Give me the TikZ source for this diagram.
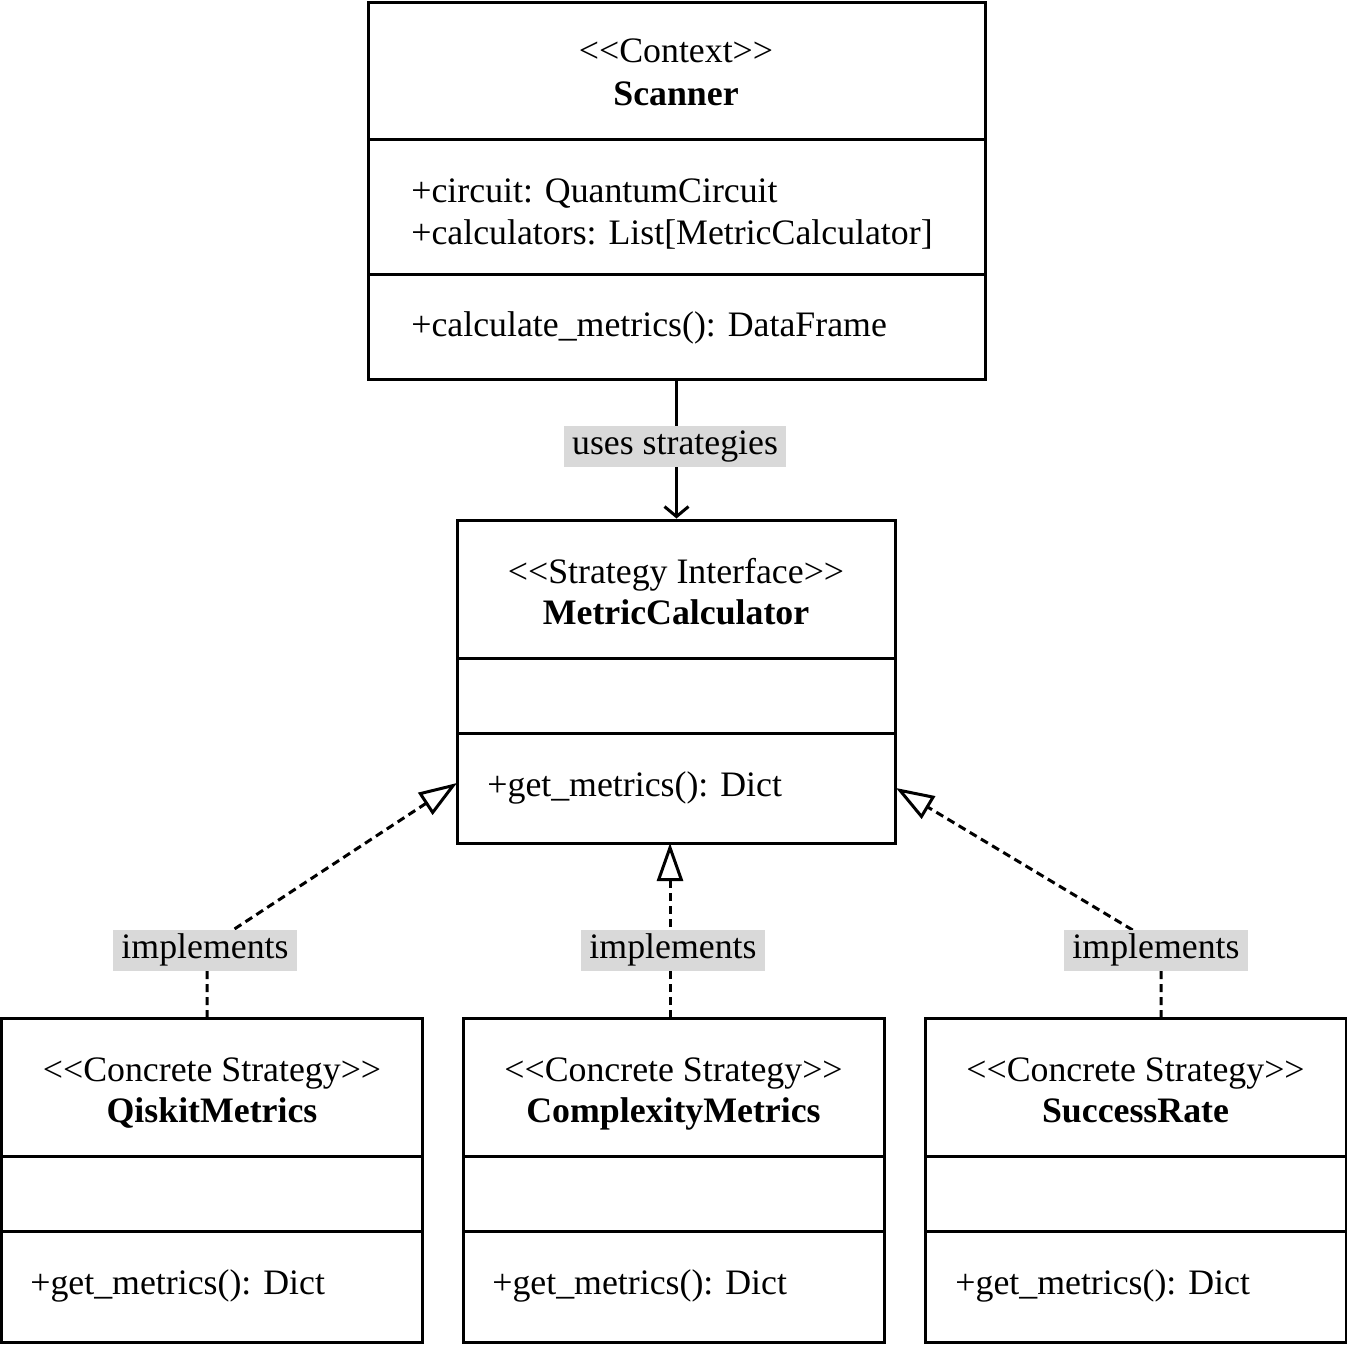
\documentclass[tikz,border=0pt]{standalone}
\usepackage{fontspec}
\setmainfont{Liberation Serif}
\usetikzlibrary{arrows.meta,calc}
\definecolor{lblgray}{RGB}{217,217,217}
\tikzset{
  classbox/.style={draw, line width=1.5pt, rectangle, inner sep=0pt},
  divider/.style={line width=1.5pt},
  txt/.style={font=\fontsize{17.9}{21.5}\selectfont, inner sep=0pt, anchor=base},
  ltxt/.style={txt, anchor=base west},
  btxt/.style={txt, font=\fontsize{17.9}{21.5}\selectfont\bfseries},
  lbl/.style={fill=lblgray, font=\fontsize{17.9}{21.5}\selectfont, inner xsep=4pt, inner ysep=2pt, text height=12.5pt, text depth=4pt},
  uses/.style={line width=1.5pt, -{Straight Barb[length=5pt,width=12pt]}},
  impl/.style={line width=1.5pt, dash pattern=on 4pt off 2.5pt, -{Triangle[open,length=19pt,width=13pt]}},
}
\begin{document}
\begin{tikzpicture}[x=0.5pt,y=-0.5pt]
\useasboundingbox (0,0) rectangle (1347,1344);
% ---- Scanner
\node[classbox, minimum width=308.5pt, minimum height=188.5pt] (scanner) at (676.5,190.5) {};
\draw[divider] (368,139) -- (985,139);
\draw[divider] (368,274) -- (985,274);
\node[txt] (scS) at (676,62) {<{}<Context>{}>};
\node[btxt] (scN) at (676,105) {Scanner};
\node[ltxt] (scA1) at (411,202) {+circuit: QuantumCircuit};
\node[ltxt] (scA2) at (411,244) {+calculators: List[MetricCalculator]};
\node[ltxt] (scM1) at (411,336) {+calculate\_metrics(): DataFrame};
% ---- MetricCalculator
\node[classbox, minimum width=219pt, minimum height=161.5pt] (metric) at (676,681.5) {};
\draw[divider] (457,658) -- (895,658);
\draw[divider] (457,733) -- (895,733);
\node[txt] (mcS) at (676,583) {<{}<Strategy Interface>{}>};
\node[btxt] (mcN) at (676,624) {MetricCalculator};
\node[ltxt] (mcM) at (487,796) {+get\_metrics(): Dict};
% ---- QiskitMetrics
\node[classbox, minimum width=210.5pt, minimum height=162pt] (qiskit) at (212,1180) {};
\draw[divider] (1.5,1156) -- (422.5,1156);
\draw[divider] (1.5,1231) -- (422.5,1231);
\node[txt] (qS) at (212,1081) {<{}<Concrete Strategy>{}>};
\node[btxt] (qN) at (212,1122) {QiskitMetrics};
\node[ltxt] (qM) at (30,1294) {+get\_metrics(): Dict};
% ---- ComplexityMetrics
\node[classbox, minimum width=210.5pt, minimum height=162pt] (complex) at (673.5,1180) {};
\draw[divider] (463,1156) -- (884,1156);
\draw[divider] (463,1231) -- (884,1231);
\node[txt] (cS) at (673.5,1081) {<{}<Concrete Strategy>{}>};
\node[btxt] (cN) at (673.5,1122) {ComplexityMetrics};
\node[ltxt] (cM) at (492,1294) {+get\_metrics(): Dict};
% ---- SuccessRate
\node[classbox, minimum width=210.5pt, minimum height=162pt] (success) at (1135.5,1180) {};
\draw[divider] (925,1156) -- (1346,1156);
\draw[divider] (925,1231) -- (1346,1231);
\node[txt] (sS) at (1135.5,1081) {<{}<Concrete Strategy>{}>};
\node[btxt] (sN) at (1135.5,1122) {SuccessRate};
\node[ltxt] (sM) at (955,1294) {+get\_metrics(): Dict};
% ---- connectors
\draw[uses] (scanner.south) -- (scanner.south |- metric.north);
\node[lbl] (usesL) at (675,446) {uses strategies};
\coordinate (qT) at (207,1018);
\coordinate (cT) at (670,1018);
\coordinate (sT) at (1161,1018);
\coordinate (qB) at (207,947);
\coordinate (sB) at (1161,947);
\coordinate (mL) at (457,783);
\coordinate (mB) at (670,843);
\coordinate (mR) at (896,788);
\draw[impl] (qT) -- (qB) -- (mL);
\draw[impl] (cT) -- (mB);
\draw[impl] (sT) -- (sB) -- (mR);
\node[lbl] (implL) at (205,950) {implements};
\node[lbl] (implC) at (673,950) {implements};
\node[lbl] (implR) at (1156,950) {implements};
\end{tikzpicture}
\end{document}
